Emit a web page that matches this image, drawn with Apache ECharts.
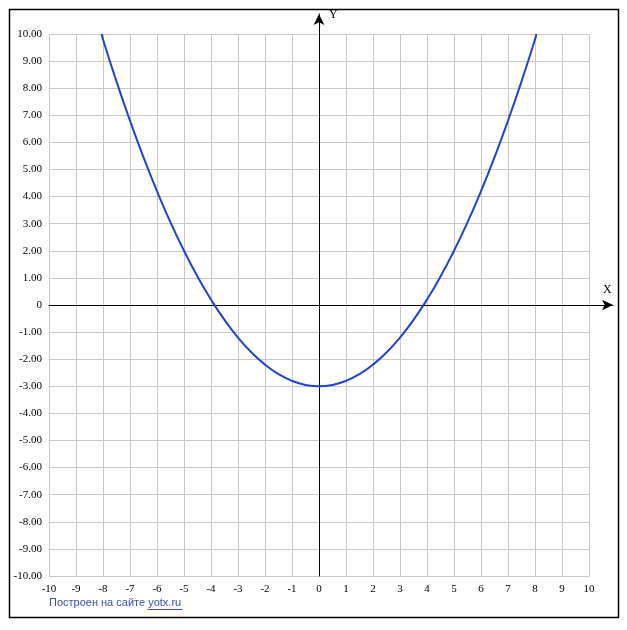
<!DOCTYPE html>
<html><head><meta charset="utf-8">
<script src="https://cdn.jsdelivr.net/npm/echarts@6/dist/echarts.min.js"></script>
<style>html,body{margin:0;padding:0;background:#fff}#c{width:627px;height:630px}</style>
</head><body><div id="c"></div>
<script>
const xValues = [-8.05,-8,-7.5,-7,-6.5,-6,-5.5,-5,-4.5,-4,-3.5,-3,-2.5,-2,-1.5,-1,-0.5,0,0.5,1,1.5,2,2.5,3,3.5,4,4.5,5,5.5,6,6.5,7,7.5,8,8.05];
const yValues = [10,9.8,8.25,6.8,5.45,4.2,3.05,2.0,1.05,0.2,-0.55,-1.2,-1.75,-2.2,-2.55,-2.8,-2.95,-3,-2.95,-2.8,-2.55,-2.2,-1.75,-1.2,-0.55,0.2,1.05,2.0,3.05,4.2,5.45,6.8,8.25,9.8,10];
const xTickLabels = ['-10','-9','-8','-7','-6','-5','-4','-3','-2','-1','0','1','2','3','4','5','6','7','8','9','10'];
const yTickLabels = ['-10.00','-9.00','-8.00','-7.00','-6.00','-5.00','-4.00','-3.00','-2.00','-1.00','0','1.00','2.00','3.00','4.00','5.00','6.00','7.00','8.00','9.00','10.00'];
const footerText = 'Построен на сайте ';
const footerLink = 'yotx.ru';

const chart = echarts.init(document.getElementById('c'), null, {renderer:'canvas'});
const lblFont = {fontFamily:'Liberation Serif', fontSize:11, color:'#000'};
chart.setOption({
  animation:false,
  backgroundColor:'#fff',
  grid:[
    {left:49, right:38, top:34, bottom:54},
    {left:49, right:14, top:14, bottom:54}
  ],
  xAxis:[
    {type:'value', gridIndex:0, min:-10, max:10, interval:1, position:'bottom',
     axisLine:{show:false, onZero:false}, axisTick:{show:false},
     axisLabel:Object.assign({margin:8, formatter:(v)=>xTickLabels[Math.round(v)+10]}, lblFont),
     splitLine:{show:true, lineStyle:{color:'#c8c8c8', width:1}}},
    {type:'value', gridIndex:1, min:-10, max:10.89,
     axisLine:{show:true, onZero:true, symbol:['none','arrow'], symbolSize:[8,11], lineStyle:{color:'#000', width:1}},
     axisTick:{show:false}, axisLabel:{show:false}, splitLine:{show:false}}
  ],
  yAxis:[
    {type:'value', gridIndex:0, min:-10, max:10, interval:1, position:'left',
     axisLine:{show:false, onZero:false}, axisTick:{show:false},
     axisLabel:Object.assign({margin:7, formatter:(v)=>yTickLabels[Math.round(v)+10]}, lblFont),
     splitLine:{show:true, lineStyle:{color:'#c8c8c8', width:1}}},
    {type:'value', gridIndex:1, min:-10, max:10.74,
     axisLine:{show:true, onZero:true, symbol:['none','arrow'], symbolSize:[8,11], lineStyle:{color:'#000', width:1}},
     axisTick:{show:false}, axisLabel:{show:false}, splitLine:{show:false}}
  ],
  series:[{
    type:'line', xAxisIndex:0, yAxisIndex:0, smooth:true, showSymbol:false,
    data:xValues.map((x,i)=>[x,yValues[i]]),
    lineStyle:{color:'#2244cc', width:2}, z:3
  }],
  graphic:[
    {type:'rect', shape:{x:9.5, y:9.5, width:609, height:608}, style:{fill:null, stroke:'#000', lineWidth:1.5}, z:0},
    {type:'text', left:329, top:9, style:{text:'Y', font:'12px "Liberation Serif"', fill:'#000'}},
    {type:'text', left:603, top:284, style:{text:'X', font:'12px "Liberation Serif"', fill:'#000'}},
    {type:'text', left:49, top:597, style:{
      text:'{a|'+footerText+'}{b|'+footerLink+'}',
      rich:{
        a:{fontFamily:'Liberation Sans', fontSize:11, fill:'#3a4fa8', color:'#3a4fa8'},
        b:{fontFamily:'Liberation Sans', fontSize:11, fill:'#3a4fa8', color:'#3a4fa8'}
      }
    }},
    {type:'line', shape:{x1:147.5, y1:609.5, x2:182.5, y2:609.5}, style:{stroke:'#3a4fa8', lineWidth:1}}
  ]
});
</script></body></html>
